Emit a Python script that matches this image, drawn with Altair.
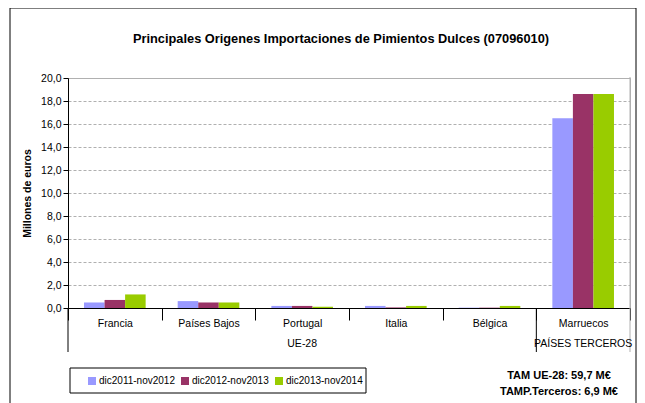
import altair as alt
import pandas as pd

countries = ["Francia", "Países Bajos", "Portugal", "Italia", "Bélgica", "Marruecos"]
series = ["dic2011-nov2012", "dic2012-nov2013", "dic2013-nov2014"]
colors = ["#9999FF", "#993366", "#99CC00"]
v2012 = [0.48, 0.60, 0.18, 0.18, 0.03, 16.5]
v2013 = [0.70, 0.48, 0.18, 0.05, 0.03, 18.6]
v2014 = [1.18, 0.48, 0.10, 0.18, 0.18, 18.6]
groups = ["UE-28", "PAÍSES TERCEROS"]
group_center = ["Portugal", "Marruecos"]
y_ticks = [0, 2, 4, 6, 8, 10, 12, 14, 16, 18, 20]
title = "Principales Origenes Importaciones de Pimientos Dulces (07096010)"
note = "TAM UE-28: 59,7 M€\nTAMP.Terceros: 6,9 M€"

rows = []
for s, vals in zip(series, [v2012, v2013, v2014]):
    for c, v in zip(countries, vals):
        rows.append({"country": c, "serie": s, "value": v})
df = pd.DataFrame(rows)

FONT = "Liberation Sans"
W, H = 562, 230

xscale = alt.Scale(domain=countries, paddingInner=0, paddingOuter=0)
xaxis = alt.Axis(
    title=None, tickBand="extent", tickSize=12, tickColor="black", domainColor="black",
    labelFont=FONT, labelFontSize=10.5, labelColor="black", labelPadding=-2,
    labelAngle=0, grid=False,
)

bars = alt.Chart(df).mark_bar().encode(
    x=alt.X("country:N", scale=xscale, axis=xaxis, sort=countries),
    xOffset=alt.XOffset("serie:N", scale=alt.Scale(domain=series, paddingOuter=0.78, paddingInner=0)),
    y=alt.Y("value:Q", scale=alt.Scale(domain=[0, 20], nice=False),
            axis=alt.Axis(title="Millones de euros", values=y_ticks,
                          labelExpr="replace(format(datum.value, '.1f'), '.', ',')",
                          labelFont=FONT, labelFontSize=10.5, labelColor="black",
                          tickSize=5, tickColor="black", domainColor="black", labelPadding=2,
                          gridDash=[3, 2], gridColor="#b0b0b0",
                          titleFont=FONT, titleFontSize=10.5, titleFontWeight="bold",
                          titleX=-41, titleY=115, titleAngle=270, titleAlign="center",
                          titleBaseline="middle", titleColor="black")),
    color=alt.Color("serie:N", scale=alt.Scale(domain=series, range=colors),
                    legend=alt.Legend(title=None, orient="none", direction="horizontal",
                                      legendX=19, legendY=298, symbolType="square",
                                      symbolSize=64, symbolStrokeWidth=0, labelFont=FONT,
                                      labelFontSize=10, labelColor="black", labelOffset=2,
                                      columnPadding=5, padding=0)),
)

one = pd.DataFrame({"k": [0]})

seps = alt.Chart(pd.DataFrame({"country": ["Francia", "Marruecos"]})).mark_rule(color="black").encode(
    x=alt.X("country:N", scale=xscale, axis=xaxis, bandPosition=0, sort=countries),
    y=alt.value(H), y2=alt.value(H + 44),
)
sep_right = alt.Chart(pd.DataFrame({"country": ["Marruecos"]})).mark_rule(color="#b0b0b0").encode(
    x=alt.X("country:N", scale=xscale, axis=xaxis, bandPosition=1, sort=countries),
    y=alt.value(-1), y2=alt.value(H + 44),
)
glabels = alt.Chart(pd.DataFrame({"country": group_center, "group": groups})).mark_text(
    font=FONT, fontSize=10.5, color="black", baseline="middle"
).encode(
    x=alt.X("country:N", scale=xscale, axis=xaxis, sort=countries),
    y=alt.value(H + 36), text="group:N",
)

legend_box = alt.Chart(one).mark_rect(fillOpacity=0, stroke="black", strokeWidth=1).encode(
    x=alt.value(2), x2=alt.value(298), y=alt.value(290), y2=alt.value(315)
)
outer = alt.Chart(one).mark_rect(fillOpacity=0, stroke="black", strokeWidth=1).encode(
    x=alt.value(-58), x2=alt.value(568), y=alt.value(-70), y2=alt.value(330)
)
note_txt = alt.Chart(one).mark_text(
    font=FONT, fontSize=11, fontWeight="bold", color="black", lineBreak="\n",
    lineHeight=16, align="center", baseline="middle"
).encode(x=alt.value(491), y=alt.value(298), text=alt.value(note))
title_txt = alt.Chart(one).mark_text(
    font=FONT, fontSize=12.8, fontWeight="bold", color="black", align="center", baseline="middle"
).encode(x=alt.value(273), y=alt.value(-39), text=alt.value(title))

chart = alt.layer(
    outer, bars, seps, sep_right, glabels, legend_box, note_txt, title_txt
).properties(
    width=W, height=H,
    autosize=alt.AutoSizeParams(type="none"),
    padding={"left": 60, "top": 70, "right": 7, "bottom": 95},
).configure_view(stroke="#b0b0b0")

chart.save("out.html", embed_options={"renderer": "svg", "actions": False})
